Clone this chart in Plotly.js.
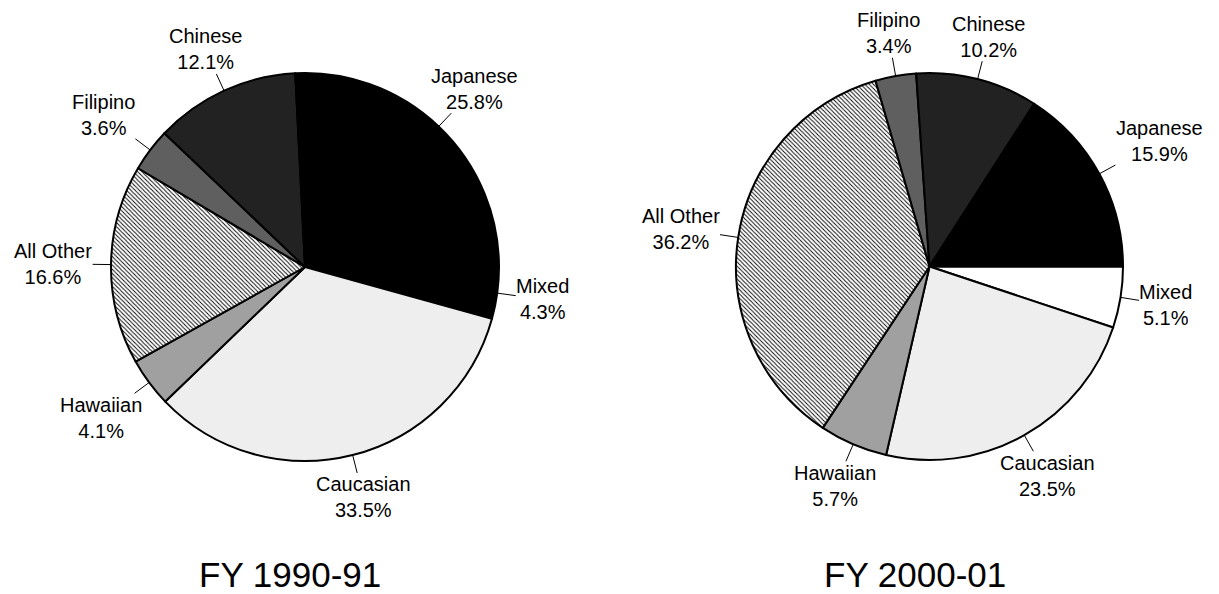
<!DOCTYPE html>
<html>
<head>
<meta charset="utf-8">
<script src="https://cdn.plot.ly/plotly-3.0.1.min.js"></script>
<style>html,body{margin:0;padding:0;background:#fff;}</style>
</head>
<body>
<div id="chart" style="width:1219px;height:594px;"></div>
<script>
// ---- data ----
const categories = ['Japanese', 'Chinese', 'Filipino', 'All Other', 'Hawaiian', 'Caucasian', 'Mixed'];
const values1990 = [25.8, 12.1, 3.6, 16.6, 4.1, 33.5, 4.3];
const values2000 = [15.9, 10.2, 3.4, 36.2, 5.7, 23.5, 5.1];
const chartTitles = ['FY 1990-91', 'FY 2000-01'];

// ---- styles ----
const colors1990 = ['#000000', '#222222', '#5f5f5f', '#ffffff', '#a0a0a0', '#eeeeee', '#000000'];
const colors2000 = ['#000000', '#222222', '#5f5f5f', '#ffffff', '#a0a0a0', '#eeeeee', '#ffffff'];
const hatch = ['', '', '', '\\', '', '', ''];

const W = 1219, H = 594;
const FONT = 'Liberation Sans, Arial, sans-serif';
const LABEL_SIZE = 20, TITLE_SIZE = 35, LEADER = 19;
const pies = [
  {values: values1990, colors: colors1990, cx: 305, cy: 267, r: 194, title: chartTitles[0]},
  {values: values2000, colors: colors2000, cx: 929.5, cy: 266.5, r: 193.5, title: chartTitles[1]}
];

const ctx = document.createElement('canvas').getContext('2d');
ctx.font = LABEL_SIZE + "px 'Liberation Sans', Arial, sans-serif";
function tw(s) { return ctx.measureText(s).width; }

const traces = [];
const annotations = [];

pies.forEach(p => {
  const rev = a => a.slice().reverse();
  traces.push({
    type: 'pie',
    labels: rev(categories),
    values: rev(p.values),
    sort: false,
    direction: 'clockwise',
    rotation: 90,
    textinfo: 'none',
    hoverinfo: 'skip',
    showlegend: false,
    domain: {
      x: [(p.cx - p.r) / W, (p.cx + p.r) / W],
      y: [1 - (p.cy + p.r) / H, 1 - (p.cy - p.r) / H]
    },
    marker: {
      colors: rev(p.colors),
      line: {color: '#000000', width: 2},
      pattern: {shape: rev(hatch), fgcolor: '#000000', bgcolor: '#ffffff', size: 3, solidity: 0.3, fillmode: 'replace'}
    }
  });

  const total = p.values.reduce((a, b) => a + b, 0);
  let cum = 0;
  p.values.forEach((v, i) => {
    const theta = (cum + v / 2) / total * 2 * Math.PI;
    cum += v;
    const dx = Math.cos(theta), dy = -Math.sin(theta);
    const tipX = p.cx + p.r * dx, tipY = p.cy + p.r * dy;
    const pct = v.toFixed(1) + '%';
    const hw = Math.max(tw(categories[i]), tw(pct)) / 2;
    const hh = 24;
    const ex = Math.abs(dx) > 1e-6 ? hw / Math.abs(dx) : Infinity;
    const ey = Math.abs(dy) > 1e-6 ? hh / Math.abs(dy) : Infinity;
    const off = LEADER + Math.min(ex, ey);
    annotations.push({
      x: tipX / W, y: 1 - tipY / H, xref: 'paper', yref: 'paper',
      ax: dx * off, ay: dy * off, axref: 'pixel', ayref: 'pixel',
      text: categories[i] + '<br>' + pct,
      showarrow: true, arrowhead: 0, arrowwidth: 1, arrowcolor: '#000000', standoff: 0,
      borderpad: 0, align: 'center',
      font: {family: FONT, size: LABEL_SIZE, color: '#000000'}
    });
  });

  annotations.push({
    x: (p.cx - 15) / W, y: 1 - 574 / H, xref: 'paper', yref: 'paper',
    xanchor: 'center', yanchor: 'middle', showarrow: false,
    text: p.title,
    font: {family: FONT, size: TITLE_SIZE, color: '#000000'}
  });
});

Plotly.newPlot('chart', traces, {
  width: W, height: H,
  margin: {l: 0, r: 0, t: 0, b: 0},
  paper_bgcolor: '#ffffff', plot_bgcolor: '#ffffff',
  font: {family: FONT, color: '#000000'},
  annotations: annotations
}, {displayModeBar: false, staticPlot: true});
</script>
</body>
</html>
